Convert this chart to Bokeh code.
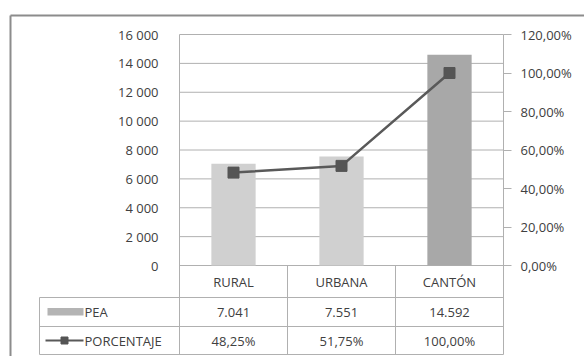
from bokeh.plotting import figure
from bokeh.models import Range1d, LinearAxis, FixedTicker
from bokeh.embed import file_html
from bokeh.resources import INLINE
from bokeh.core.properties import value

# ---------------- data ----------------
categories = ["RURAL", "URBANA", "CANTÓN"]
pea = [7041, 7551, 14592]
pea_labels = ["7.041", "7.551", "14.592"]
porcentaje = [48.25, 51.75, 100.00]
pct_labels = ["48,25%", "51,75%", "100,00%"]
bar_colors = ["#d0d0d0", "#d0d0d0", "#a8a8a8"]
series_names = ["PEA", "PORCENTAJE"]
left_ticks = [0, 2000, 4000, 6000, 8000, 10000, 12000, 14000, 16000]
left_tick_labels = ["0", "2 000", "4 000", "6 000", "8 000", "10 000", "12 000", "14 000", "16 000"]
right_ticks = [0, 20, 40, 60, 80, 100, 120]
right_tick_labels = ["0,00%", "20,00%", "40,00%", "60,00%", "80,00%", "100,00%", "120,00%"]

# ---------------- layout (pixels) ----------------
W, H = 584, 356
PL, PT, PW, PH = 179, 34, 324, 231      # plot area box
YMAX, PMAX = 16000, 120
FONT = "Open Sans"
FS = "13px"
TXT = "#404040"
GRID = "#b0b0b0"

ncat = len(categories)
ux = ncat / PW
uy = YMAX / PH


def X(px):
    return (px - PL) * ux


def Y(py):
    return YMAX - (py - PT) * uy


y0, y1 = Y(H), Y(0)
p = figure(width=W, height=H, output_backend="svg", toolbar_location=None,
           x_range=Range1d(X(0), X(W)), y_range=Range1d(y0, y1),
           x_axis_location=None, y_axis_location=None, min_border=0,
           background_fill_color="white", border_fill_color="white")
p.outline_line_color = None
p.xgrid.visible = False
p.ygrid.visible = False
p.extra_y_ranges = {"pct": Range1d(y0 * PMAX / YMAX, y1 * PMAX / YMAX)}

# axes
lax = LinearAxis(fixed_location=0, ticker=FixedTicker(ticks=left_ticks),
                 major_label_overrides=dict(zip(left_ticks, left_tick_labels)))
lax.axis_line_color = None
lax.major_tick_line_color = None
lax.minor_tick_line_color = None
lax.major_tick_out = 0
lax.major_tick_in = 0
lax.major_label_standoff = 21
lax.major_label_text_font = FONT
lax.major_label_text_font_size = FS
lax.major_label_text_color = TXT
p.add_layout(lax, "left")

rax = LinearAxis(y_range_name="pct", fixed_location=ncat, ticker=FixedTicker(ticks=right_ticks),
                 major_label_overrides=dict(zip(right_ticks, right_tick_labels)))
rax.axis_line_color = None
rax.major_tick_line_color = GRID
rax.minor_tick_line_color = None
rax.major_tick_out = 8
rax.major_tick_in = 0
rax.major_label_standoff = 9
rax.major_label_text_font = FONT
rax.major_label_text_font_size = FS
rax.major_label_text_color = TXT
p.add_layout(rax, "right")

# horizontal gridlines of the plot area (from the tick list)
p.segment(x0=[0] * len(left_ticks), x1=[ncat] * len(left_ticks), y0=left_ticks, y1=left_ticks,
          line_color=GRID, line_width=1)

# data table geometry (pixel rows)
rows = [265, 297, 326, 354]
leg_left = 39
segx0, segy0, segx1, segy1 = [], [], [], []


def seg(a, b, c, d):
    segx0.append(a); segy0.append(b); segx1.append(c); segy1.append(d)


for r in rows[1:]:
    seg(X(leg_left), Y(r), ncat, Y(r))
seg(X(leg_left), Y(rows[1]), X(leg_left), Y(rows[3]))
for k in range(ncat + 1):
    seg(k, Y(rows[3]), k, YMAX if k in (0, ncat) else 0)
p.segment(x0=segx0, y0=segy0, x1=segx1, y1=segy1, line_color=GRID, line_width=1)

# outer chart border
p.segment(x0=[X(10), X(10)], y0=[Y(15), Y(15)], x1=[X(W + 5), X(10)], y1=[Y(15), Y(H + 5)],
          line_color="#8c8c8c", line_width=2)

# series
xpos = [i + 0.5 for i in range(ncat)]
p.vbar(x=xpos, top=pea, width=0.41, fill_color=bar_colors, line_color=None)
p.line(x=xpos, y=porcentaje, y_range_name="pct", line_color="#595959", line_width=2.5)
p.scatter(x=xpos, y=porcentaje, y_range_name="pct", marker="square", size=11,
          fill_color="#555555", line_color="#555555")

# table texts
centers = [(rows[i] + rows[i + 1]) / 2 for i in range(3)]
for texts, c in [(categories, centers[0]), (pea_labels, centers[1]), (pct_labels, centers[2])]:
    p.text(x=xpos, y=[Y(c + 0.5)] * ncat, text=texts, text_align="center",
           text_baseline="middle", text_font=value(FONT), text_font_size=value(FS),
           text_color=TXT)

# legend keys in the table
p.quad(left=[X(47)], right=[X(83)], top=[Y(centers[1] - 4)], bottom=[Y(centers[1] + 3.5)],
       fill_color="#b4b4b4", line_color=None)
p.segment(x0=[X(45)], x1=[X(83)], y0=[Y(centers[2])], y1=[Y(centers[2])],
          line_color="#595959", line_width=2)
p.scatter(x=[X(64)], y=[Y(centers[2])], marker="square", size=7,
          fill_color="#555555", line_color="#555555")
p.text(x=[X(84)] * 2, y=[Y(c) for c in centers[1:]], text=series_names, text_align="left",
       text_baseline="middle", text_font=value(FONT), text_font_size=value(FS), text_color=TXT)

open("out.html", "w").write(file_html(p, INLINE))
